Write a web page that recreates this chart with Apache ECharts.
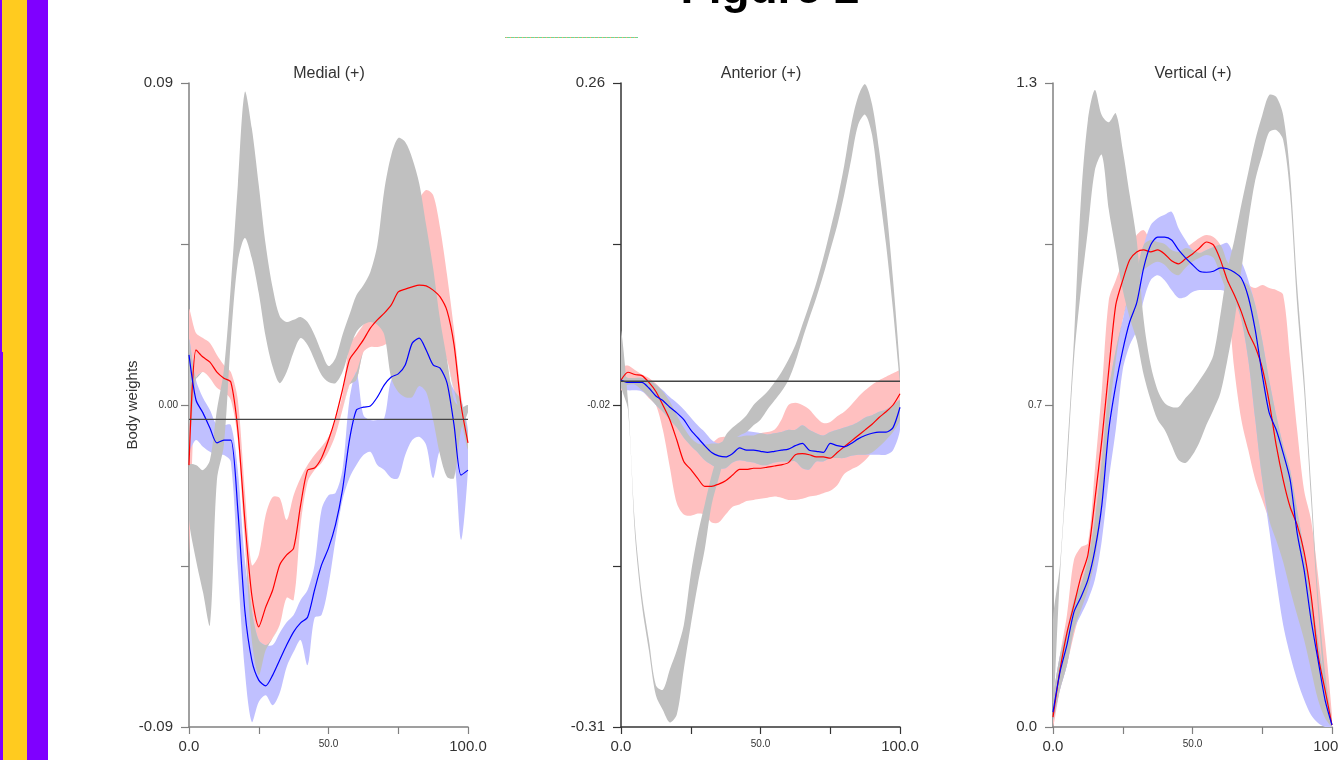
<!DOCTYPE html>
<html>
<head>
<meta charset="utf-8">
<script src="https://cdn.jsdelivr.net/npm/echarts@6/dist/echarts.min.js"></script>
<style>
  html, body { margin: 0; padding: 0; background: #fff; }
  #chart { width: 1339px; height: 760px; }
</style>
</head>
<body>
<div id="chart"></div>
<script>
// percent of cycle, shared by all three panels
var pct = [0,2.5,5,7.5,10,12.5,15,17.5,20,22.5,25,27.5,30,32.5,35,37.5,40,42.5,45,47.5,50,
  52.5,55,57.5,60,62.5,65,67.5,70,72.5,75,77.5,80,82.5,85,87.5,90,92.5,95,97.5,100];

var panelTitles = ['Medial (+)', 'Anterior (+)', 'Vertical (+)'];
var yName = 'Body weights';
var xTicks = [0, 25, 50, 75, 100];
var xTickLabels = ['0.0', '', '50.0', '', '100.0'];
var medYTicks = [-0.09, -0.045, 0, 0.045, 0.09];
var medYLabels = ['-0.09', '', '0.00', '', '0.09'];
var antYTicks = [-0.31, -0.1675, -0.025, 0.1175, 0.26];
var antYLabels = ['-0.31', '', '-0.02', '', '0.26'];
var vertYTicks = [0, 0.325, 0.65, 0.975, 1.3];
var vertYLabels = ['0.0', '', '0.7', '', '1.3'];
var refLevels = [-0.004, -0.004, null];

// ---- Medial ----
var medGrayHi = [-0.0168,-0.0168,-0.0182,-0.0154,-0.0014,0.0098,0.0335,0.0615,0.0875,0.0774,0.0615,0.0447,0.0327,0.0249,0.0232,0.0238,0.0246,0.0232,0.0196,0.0148,0.0109,0.0131,0.0196,0.0252,0.0307,0.0335,0.0372,0.0447,0.0601,0.0699,0.0746,0.0735,0.0690,0.0620,0.0503,0.0383,0.0238,0.0126,0.0014,-0.0006,0.0000];
var medGrayLo = [-0.0321,-0.0433,-0.0523,-0.0615,-0.0210,-0.0112,0.0182,0.0400,0.0467,0.0411,0.0313,0.0190,0.0106,0.0061,0.0092,0.0148,0.0187,0.0168,0.0126,0.0084,0.0064,0.0061,0.0092,0.0154,0.0204,0.0224,0.0232,0.0224,0.0196,0.0075,0.0036,0.0022,0.0022,0.0053,0.0036,-0.0042,-0.0140,-0.0201,-0.0204,-0.0070,-0.0020];
var medRedHi = [0.0266,0.0201,0.0187,0.0173,0.0140,0.0112,0.0092,0.0014,-0.0238,-0.0447,-0.0419,-0.0307,-0.0257,-0.0260,-0.0321,-0.0252,-0.0204,-0.0168,-0.0140,-0.0117,-0.0089,-0.0042,0.0028,0.0168,0.0196,0.0224,0.0252,0.0266,0.0285,0.0307,0.0344,0.0405,0.0489,0.0573,0.0601,0.0587,0.0495,0.0363,0.0210,0.0028,-0.0084];
var medRedLo = [-0.0419,0.0075,0.0092,0.0075,0.0048,0.0036,0.0014,-0.0098,-0.0377,-0.0657,-0.0755,-0.0685,-0.0651,-0.0615,-0.0539,-0.0545,-0.0335,-0.0215,-0.0182,-0.0162,-0.0131,-0.0084,-0.0014,0.0056,0.0070,0.0148,0.0162,0.0162,0.0168,0.0182,0.0210,0.0224,0.0238,0.0238,0.0210,0.0182,0.0168,0.0126,0.0042,-0.0042,-0.0126];
var medRed = [-0.0168,0.0154,0.0134,0.0120,0.0092,0.0075,0.0064,-0.0070,-0.0321,-0.0531,-0.0620,-0.0565,-0.0517,-0.0447,-0.0419,-0.0400,-0.0280,-0.0182,-0.0176,-0.0148,-0.0098,-0.0036,0.0042,0.0126,0.0154,0.0182,0.0215,0.0238,0.0257,0.0280,0.0316,0.0324,0.0330,0.0335,0.0333,0.0321,0.0302,0.0263,0.0168,0.0000,-0.0106];
var medBlueHi = [0.0182,0.0070,0.0020,-0.0014,-0.0056,-0.0056,-0.0056,-0.0182,-0.0433,-0.0573,-0.0657,-0.0671,-0.0671,-0.0637,-0.0607,-0.0587,-0.0545,-0.0517,-0.0447,-0.0293,-0.0252,-0.0246,-0.0182,0.0014,0.0092,-0.0028,-0.0042,-0.0042,-0.0036,0.0070,0.0070,0.0140,0.0196,0.0210,0.0182,0.0140,0.0126,0.0084,0.0042,0.0014,-0.0070];
var medBlueLo = [-0.0126,-0.0098,-0.0117,-0.0131,-0.0140,-0.0140,-0.0159,-0.0461,-0.0741,-0.0886,-0.0830,-0.0811,-0.0839,-0.0805,-0.0732,-0.0690,-0.0657,-0.0727,-0.0595,-0.0587,-0.0503,-0.0377,-0.0266,-0.0204,-0.0168,-0.0140,-0.0131,-0.0168,-0.0182,-0.0204,-0.0204,-0.0140,-0.0098,-0.0089,-0.0112,-0.0204,-0.0126,-0.0140,-0.0154,-0.0377,-0.0182];
var medBlue = [0.0140,0.0014,-0.0022,-0.0064,-0.0106,-0.0098,-0.0098,-0.0293,-0.0573,-0.0713,-0.0769,-0.0785,-0.0755,-0.0713,-0.0671,-0.0634,-0.0609,-0.0593,-0.0517,-0.0447,-0.0400,-0.0335,-0.0238,-0.0098,-0.0014,-0.0006,-0.0003,0.0022,0.0056,0.0078,0.0087,0.0112,0.0173,0.0187,0.0154,0.0112,0.0103,0.0061,-0.0056,-0.0196,-0.0182];

// ---- Anterior ----
var antGrayHi = [0.041,-0.021,-0.131,-0.193,-0.233,-0.273,-0.277,-0.259,-0.242,-0.220,-0.175,-0.140,-0.113,-0.087,-0.067,-0.052,-0.045,-0.040,-0.034,-0.025,-0.019,-0.013,-0.005,0.004,0.015,0.028,0.046,0.064,0.083,0.105,0.130,0.156,0.187,0.223,0.248,0.259,0.241,0.201,0.152,0.086,0.006];
var antGrayLo = [-0.007,-0.029,-0.140,-0.202,-0.242,-0.282,-0.295,-0.306,-0.299,-0.259,-0.220,-0.184,-0.153,-0.113,-0.090,-0.069,-0.056,-0.052,-0.049,-0.043,-0.038,-0.029,-0.021,-0.013,-0.003,0.013,0.033,0.052,0.070,0.090,0.112,0.134,0.161,0.192,0.223,0.232,0.214,0.165,0.117,0.059,-0.005];
var antRedHi = [0.008,0.010,0.006,0.002,-0.001,-0.006,-0.013,-0.022,-0.034,-0.045,-0.054,-0.059,-0.060,-0.059,-0.054,-0.053,-0.053,-0.053,-0.052,-0.052,-0.050,-0.049,-0.047,-0.038,-0.025,-0.023,-0.025,-0.029,-0.036,-0.041,-0.040,-0.035,-0.031,-0.025,-0.018,-0.012,-0.007,-0.003,0.000,0.003,0.005];
var antRedLo = [-0.012,-0.007,-0.007,-0.012,-0.019,-0.025,-0.047,-0.080,-0.112,-0.122,-0.123,-0.121,-0.122,-0.129,-0.129,-0.122,-0.115,-0.113,-0.110,-0.109,-0.108,-0.107,-0.106,-0.107,-0.109,-0.109,-0.108,-0.106,-0.105,-0.103,-0.101,-0.096,-0.086,-0.082,-0.079,-0.074,-0.067,-0.062,-0.056,-0.049,-0.038];
var antRed = [-0.003,0.004,0.002,0.001,-0.005,-0.013,-0.025,-0.038,-0.056,-0.075,-0.082,-0.090,-0.097,-0.097,-0.095,-0.092,-0.087,-0.082,-0.082,-0.081,-0.081,-0.080,-0.079,-0.078,-0.076,-0.069,-0.068,-0.069,-0.071,-0.071,-0.072,-0.067,-0.062,-0.057,-0.052,-0.047,-0.042,-0.036,-0.031,-0.025,-0.015];
var antBlueHi = [0.002,-0.001,-0.001,-0.001,-0.003,-0.007,-0.012,-0.018,-0.023,-0.029,-0.036,-0.043,-0.049,-0.056,-0.059,-0.056,-0.052,-0.049,-0.048,-0.049,-0.050,-0.051,-0.050,-0.049,-0.047,-0.047,-0.043,-0.047,-0.050,-0.052,-0.049,-0.047,-0.045,-0.043,-0.040,-0.036,-0.034,-0.031,-0.029,-0.025,-0.021];
var antBlueLo = [-0.010,-0.012,-0.012,-0.013,-0.018,-0.025,-0.031,-0.038,-0.045,-0.054,-0.061,-0.067,-0.074,-0.078,-0.081,-0.081,-0.076,-0.074,-0.075,-0.076,-0.078,-0.078,-0.076,-0.075,-0.075,-0.075,-0.081,-0.082,-0.075,-0.075,-0.072,-0.072,-0.072,-0.070,-0.069,-0.069,-0.069,-0.069,-0.069,-0.065,-0.047];
var antBlue = [-0.003,-0.005,-0.005,-0.005,-0.010,-0.017,-0.021,-0.027,-0.032,-0.038,-0.047,-0.054,-0.061,-0.067,-0.070,-0.071,-0.068,-0.063,-0.065,-0.065,-0.066,-0.067,-0.066,-0.065,-0.064,-0.061,-0.059,-0.065,-0.066,-0.067,-0.059,-0.061,-0.062,-0.059,-0.055,-0.052,-0.050,-0.049,-0.049,-0.045,-0.027];

// ---- Vertical ----
var vertGrayHi = [0.216,0.327,0.549,0.781,1.064,1.225,1.286,1.235,1.221,1.239,1.165,1.074,0.983,0.822,0.731,0.680,0.654,0.646,0.646,0.664,0.680,0.700,0.721,0.751,0.832,0.922,0.983,1.054,1.120,1.185,1.235,1.276,1.272,1.235,1.114,0.892,0.711,0.488,0.266,0.111,0.010];
var vertGrayLo = [0.024,0.307,0.519,0.741,0.882,1.003,1.124,1.155,1.044,0.963,0.882,0.826,0.781,0.711,0.660,0.620,0.600,0.569,0.539,0.533,0.549,0.575,0.610,0.640,0.674,0.741,0.818,0.922,1.019,1.104,1.155,1.201,1.205,1.185,1.074,0.852,0.680,0.458,0.236,0.075,0.000];
var vertRedHi = [0.055,0.145,0.226,0.337,0.363,0.371,0.519,0.680,0.862,0.902,0.939,0.969,0.993,1.003,0.983,0.979,0.975,0.963,0.959,0.967,0.977,0.987,0.993,0.989,0.973,0.939,0.922,0.902,0.892,0.886,0.892,0.886,0.882,0.872,0.741,0.600,0.478,0.418,0.307,0.176,0.024];
var vertRedLo = [0.000,0.075,0.125,0.186,0.236,0.277,0.337,0.438,0.620,0.741,0.822,0.872,0.902,0.922,0.933,0.939,0.933,0.918,0.912,0.927,0.939,0.947,0.953,0.947,0.912,0.862,0.721,0.620,0.559,0.499,0.458,0.418,0.377,0.333,0.277,0.226,0.176,0.115,0.055,0.018,0.000];
var vertRed = [0.020,0.115,0.190,0.246,0.303,0.347,0.458,0.579,0.721,0.852,0.902,0.943,0.959,0.963,0.959,0.963,0.955,0.941,0.935,0.945,0.955,0.967,0.979,0.973,0.943,0.902,0.872,0.838,0.797,0.767,0.725,0.656,0.569,0.499,0.444,0.408,0.353,0.266,0.145,0.075,0.004];
var vertBlueHi = [0.055,0.145,0.196,0.256,0.287,0.337,0.418,0.539,0.680,0.761,0.822,0.882,0.922,0.973,1.013,1.027,1.034,1.040,1.007,0.983,0.963,0.957,0.963,0.969,0.973,0.977,0.953,0.939,0.902,0.852,0.781,0.700,0.630,0.569,0.519,0.438,0.357,0.266,0.176,0.085,0.008];
var vertBlueLo = [0.014,0.075,0.125,0.196,0.226,0.256,0.297,0.377,0.499,0.600,0.721,0.771,0.801,0.862,0.902,0.912,0.902,0.882,0.866,0.868,0.878,0.882,0.882,0.882,0.882,0.878,0.862,0.822,0.741,0.620,0.499,0.398,0.297,0.206,0.145,0.095,0.055,0.024,0.008,0.000,0.000];
var vertBlue = [0.030,0.111,0.166,0.232,0.262,0.297,0.357,0.448,0.600,0.690,0.761,0.818,0.856,0.927,0.973,0.989,0.989,0.983,0.963,0.947,0.933,0.920,0.918,0.920,0.927,0.925,0.918,0.906,0.868,0.801,0.711,0.634,0.600,0.553,0.499,0.392,0.317,0.216,0.135,0.055,0.004];

var FONT = '"Liberation Sans", Arial, sans-serif';
var GRAY = '#c0c0c0', PINK = '#ffc0c0', LILAC = '#c0c0ff';
var gridLefts = [189, 621, 1053];
var axisColors = ['#808080', '#333333', '#808080'];

var panels = [
  { yt: medYTicks, yl: medYLabels, gray: [medGrayLo, medGrayHi], pink: [medRedLo, medRedHi], lilac: [medBlueLo, medBlueHi], red: medRed, blue: medBlue },
  { yt: antYTicks, yl: antYLabels, gray: [antGrayLo, antGrayHi], pink: [antRedLo, antRedHi], lilac: [antBlueLo, antBlueHi], red: antRed, blue: antBlue },
  { yt: vertYTicks, yl: vertYLabels, gray: [vertGrayLo, vertGrayHi], pink: [vertRedLo, vertRedHi], lilac: [vertBlueLo, vertBlueHi], red: vertRed, blue: vertBlue }
];

function pairs(ys) {
  return pct.map(function (x, i) { return [x, ys[i]]; });
}

// where the red and blue bands cover each other the original shows grey
function overlap(a, b) {
  var lo = [], hi = [];
  for (var i = 0; i < pct.length; i++) {
    var l = Math.max(a[0][i], b[0][i]);
    lo.push(l);
    hi.push(Math.max(l, Math.min(a[1][i], b[1][i])));
  }
  return [lo, hi];
}

function pickLabel(ticks, labels, v) {
  for (var j = 0; j < ticks.length; j++) {
    if (Math.abs(ticks[j] - v) < 1e-7) {
      if (!labels[j]) return '';
      return (j === 0 || j === ticks.length - 1 ? '{big|' : '{small|') + labels[j] + '}';
    }
  }
  return '';
}

function band(k, b, color) {
  var lo = b[0], hi = b[1];
  return {
    type: 'custom', xAxisIndex: k, yAxisIndex: k, silent: true, z: 1, clip: true,
    data: [[pct[0], lo[0]]],
    renderItem: function (params, api) {
      var pts = [];
      for (var i = 0; i < pct.length; i++) pts.push(api.coord([pct[i], hi[i]]));
      for (var j = pct.length - 1; j >= 0; j--) pts.push(api.coord([pct[j], lo[j]]));
      return {
        type: 'polygon',
        shape: { points: pts, smooth: 0.3 },
        style: { fill: color, stroke: null }
      };
    }
  };
}

function curve(k, ys, color) {
  return {
    type: 'line', xAxisIndex: k, yAxisIndex: k, data: pairs(ys),
    showSymbol: false, symbol: 'none', smooth: 0.25, silent: true, z: 3,
    lineStyle: { color: color, width: 1.2 }, itemStyle: { color: color }
  };
}

function refLine(k, level) {
  return {
    type: 'line', xAxisIndex: k, yAxisIndex: k, data: [[0, level], [100, level]],
    showSymbol: false, symbol: 'none', silent: true, z: 4,
    lineStyle: { color: '#444', width: 1.3 }
  };
}

var grids = [], xAxes = [], yAxes = [], series = [], titles = [];

panels.forEach(function (p, k) {
  var ac = axisColors[k];
  grids.push({ left: gridLefts[k], top: 83, width: 279, height: 644, containLabel: false, outerBoundsMode: 'none' });
  titles.push({
    text: panelTitles[k], left: gridLefts[k] + 135, top: 61, textAlign: 'center',
    textStyle: { fontFamily: FONT, fontSize: 16, fontWeight: 'normal', color: '#333' }
  });
  xAxes.push({
    type: 'value', gridIndex: k, min: 0, max: 100,
    axisLine: { onZero: false, lineStyle: { color: ac, width: 1.5 } },
    axisTick: { customValues: xTicks, length: 7, lineStyle: { color: ac, width: 1.2 } },
    axisLabel: {
      customValues: xTicks, margin: 12, color: '#333', hideOverlap: false,
      formatter: function (v) { return pickLabel(xTicks, xTickLabels, v); },
      rich: {
        big: { fontFamily: FONT, fontSize: 15, color: '#333' },
        small: { fontFamily: FONT, fontSize: 10, color: '#333' }
      }
    },
    splitLine: { show: false }
  });
  var ya = {
    type: 'value', gridIndex: k, min: p.yt[0], max: p.yt[p.yt.length - 1],
    axisLine: { show: true, onZero: false, lineStyle: { color: ac, width: 1.5 } },
    axisTick: { show: true, customValues: p.yt, length: 8, lineStyle: { color: ac, width: 1.2 } },
    axisLabel: {
      customValues: p.yt, margin: 11, color: '#333',
      formatter: function (v) { return pickLabel(p.yt, p.yl, v); },
      rich: {
        big: { fontFamily: FONT, fontSize: 15, color: '#333', padding: [0, 5, 0, 0] },
        small: { fontFamily: FONT, fontSize: 10, color: '#333' }
      }
    },
    splitLine: { show: false }
  };
  if (k === 0) {
    ya.name = yName;
    ya.nameLocation = 'middle';
    ya.nameGap = 56;
    ya.nameMoveOverlap = false;
    ya.nameRotate = 90;
    ya.nameTextStyle = { fontFamily: FONT, fontSize: 15, color: '#333', verticalAlign: 'middle' };
  }
  yAxes.push(ya);

  series.push(band(k, p.pink, PINK));
  series.push(band(k, p.lilac, LILAC));
  series.push(band(k, overlap(p.pink, p.lilac), GRAY));
  series.push(band(k, p.gray, GRAY));
  if (refLevels[k] != null) series.push(refLine(k, refLevels[k]));
  series.push(curve(k, p.red, '#ff0000'));
  series.push(curve(k, p.blue, '#0000ff'));
});

var chart = echarts.init(document.getElementById('chart'), null, { renderer: 'canvas' });
chart.setOption({
  backgroundColor: '#ffffff',
  animation: false,
  title: titles,
  grid: grids,
  xAxis: xAxes,
  yAxis: yAxes,
  series: series,
  graphic: [
    { type: 'rect', left: 0, top: 0, shape: { width: 48, height: 760 }, style: { fill: '#7f00ff' }, silent: true },
    { type: 'rect', left: 2, top: 0, shape: { width: 25, height: 352 }, style: { fill: '#ffcb1f' }, silent: true },
    { type: 'rect', left: 3, top: 352, shape: { width: 24, height: 408 }, style: { fill: '#ffcb1f' }, silent: true },
    { type: 'rect', left: 505, top: 37, shape: { width: 133, height: 1 }, style: { fill: '#6ed894' }, silent: true },
    { type: 'line', shape: { x1: 506, y1: 37.5, x2: 638, y2: 37.5 }, style: { stroke: '#ffa066', lineWidth: 1, lineDash: [1, 3] }, silent: true },
    {
      type: 'text', x: 770, y: -10, silent: true,
      style: { text: 'Figure 2', font: 'bold 46px "Liberation Sans", Arial, sans-serif', fill: '#000', textAlign: 'center', textVerticalAlign: 'middle' }
    }
  ]
});
</script>
</body>
</html>
